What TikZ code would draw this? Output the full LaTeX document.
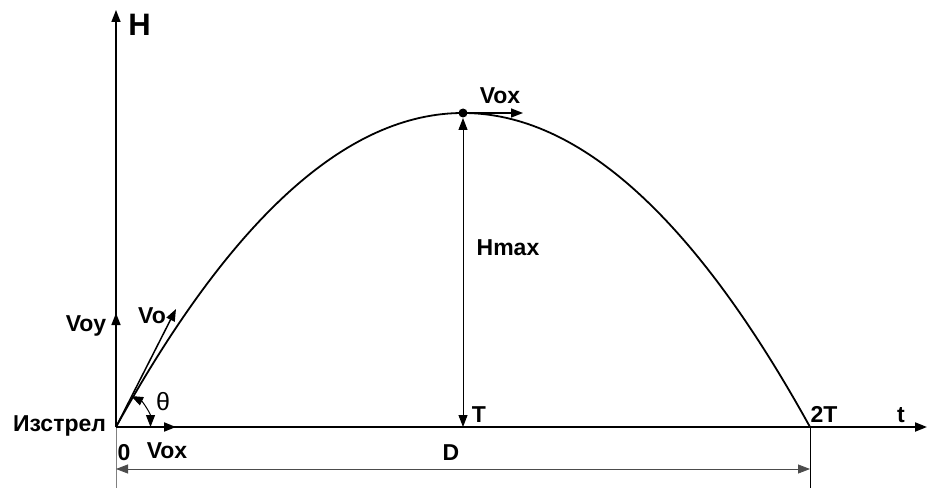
\documentclass[tikz,border=0pt]{standalone}
\usepackage{fontspec}
\setmainfont{Liberation Sans}
\usetikzlibrary{arrows.meta}
\begin{document}
\begin{tikzpicture}[x=1pt,y=1pt,
  lbl/.style={font=\fontsize{23}{25}\selectfont\bfseries, anchor=base, inner sep=0pt},
  tip/.style={-{Triangle[length=12pt,width=9pt]}},
  tips/.style={{Triangle[length=12pt,width=9pt]}-{Triangle[length=12pt,width=9pt]}}]
\useasboundingbox (0,0) rectangle (928,488);
% key points
\coordinate (O) at (116,61);
\coordinate (P) at (463,375);
\coordinate (Pb) at (463,370);
\coordinate (E) at (810,61);
\coordinate (T0) at (463,61);
\coordinate (Htop) at (116,478);
\coordinate (Hbot) at (116,0);
\coordinate (Xend) at (927,61);
\coordinate (Ebot) at (810,0);
\coordinate (Dl) at (116,19);
\coordinate (Dr) at (810,19);
\coordinate (VoEnd) at (176,179);
\coordinate (VoyEnd) at (116,175);
\coordinate (VoxEnd) at (176,61);
\coordinate (VoxTop) at (523,375);
\coordinate (C1) at (347.33,479.67);
\coordinate (C2) at (578.67,479.67);
\coordinate (A1) at (150.5,61);
% extension lines
\draw[gray, line width=0.8pt] (O) -- (Hbot);
\draw[line width=0.8pt] (E) -- (Ebot);
\draw[tips, line width=0.8pt, black!70] (Dl) -- (Dr);
% axes
\draw[tip, line width=1.5pt] (O) -- (Htop);
\draw[tip, line width=2pt] (O) -- (Xend);
% trajectory
\draw[line width=1.8pt] (O) .. controls (C1) and (C2) .. (E);
% Hmax
\fill (P) circle[radius=4.5pt];
\draw[tips, line width=1pt] (T0) -- (Pb);
\draw[tip, line width=1.5pt] (P) -- (VoxTop);
% velocity components
\draw[tip, line width=1.5pt] (O) -- (VoEnd);
\draw[tip, line width=1.5pt] (O) -- (VoyEnd);
\draw[tip, line width=2pt] (O) -- (VoxEnd);
% angle
\draw[tips, line width=1pt] (A1) arc[start angle=0, end angle=64, radius=34.5];
% labels
\node[font=\fontsize{31}{33}\selectfont\bfseries, anchor=base, inner sep=0pt] (lH) at (139.5,452) {H};
\node[lbl] (lVoxTop) at (500,384) {Vox};
\node[lbl] (lHmax) at (508,233) {Hmax};
\node[lbl] (lT) at (479,66) {T};
\node[lbl] (l2T) at (824,66) {2T};
\node[lbl] (lt) at (901,66) {t};
\node[lbl] (lD) at (451,28) {D};
\node[lbl] (lVox) at (167,30) {Vox};
\node[lbl] (l0) at (124,28) {0};
\node[lbl] (lIz) at (59.5,57) {Изстрел};
\node[lbl] (lVo) at (152,165) {Vo};
\node[lbl] (lVoy) at (86,157) {Voy};
\node[font=\fontsize{25}{27}\selectfont, inner sep=0pt] (lth) at (163,86) {θ};
\end{tikzpicture}
\end{document}
